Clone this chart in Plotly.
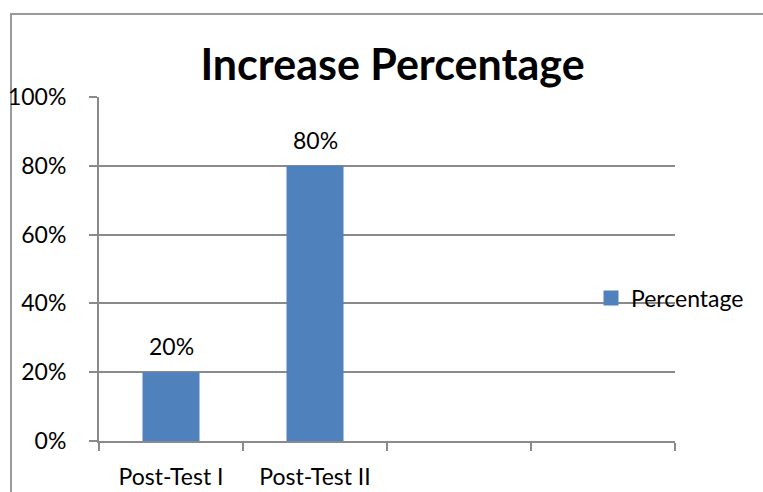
import plotly.graph_objects as go

categories = ["Post-Test I", "Post-Test II", " ", "  "]
values = [0.20, 0.80, None, None]
series_name = "Percentage"
title_text = "Increase Percentage"
y_ticks = [0, 0.2, 0.4, 0.6, 0.8, 1.0]

W, H = 763, 492
ML, MR, MT, MB = 99, 88, 97, 51
PW = W - ML - MR
PH = H - MT - MB

FONT = "Lato"
GRID = "#8a8a8a"
BAR = "#4F81BD"

fig = go.Figure()
fig.add_trace(go.Bar(
    x=categories, y=values, name=series_name,
    marker=dict(color=BAR, line=dict(width=0)),
    width=0.396, showlegend=False, legendgroup="s",
))
# legend entry for the series (larger square swatch, as in the original)
fig.add_trace(go.Scatter(
    x=[None], y=[None], name=series_name, mode="markers",
    marker=dict(symbol="square", size=15, color=BAR),
    showlegend=True, legendgroup="s",
))

for c, v in zip(categories, values):
    if v is None:
        continue
    fig.add_annotation(
        x=c, y=v, xref="x", yref="y", text=f"{v:.0%}",
        showarrow=False, yshift=26, yanchor="middle",
        font=dict(family=FONT, size=23, color="#000000"),
    )

# outer chart frame (extends beyond the right and bottom edges)
fig.add_shape(
    type="rect", xref="paper", yref="paper",
    x0=(11 - ML) / PW, x1=(W + 20 - ML) / PW,
    y0=(H - MB - (H + 20)) / PH, y1=(H - MB - 14) / PH,
    line=dict(color="#9a9a9a", width=2), fillcolor="rgba(0,0,0,0)", layer="below",
)

fig.update_layout(
    width=W, height=H,
    margin=dict(l=ML, r=MR, t=MT, b=MB, pad=0, autoexpand=False),
    paper_bgcolor="white", plot_bgcolor="white",
    font=dict(family=FONT, size=23, color="#000000"),
    title=dict(
        text=f"<b>{title_text}</b>", x=392.5 / W, xanchor="center",
        y=1 - 65 / H, yanchor="middle", yref="container", automargin=False,
        font=dict(family=FONT, size=43, color="#000000"),
    ),
    showlegend=True,
    legend=dict(
        x=(591 - ML) / PW, y=(H - MB - 298) / PH, xanchor="left", yanchor="middle",
        xref="paper", yref="paper",
        font=dict(family=FONT, size=23, color="#000000"),
        bgcolor="rgba(0,0,0,0)", borderwidth=0,
        itemwidth=30, tracegroupgap=0, itemsizing="trace",
    ),
    bargap=0.604,
)

fig.update_xaxes(
    type="category", categoryorder="array", categoryarray=categories,
    range=[-0.5, len(categories) - 0.5], automargin=False,
    tickson="boundaries", ticks="outside", ticklen=8, tickwidth=2, tickcolor=GRID,
    showline=True, linecolor=GRID, linewidth=2,
    showgrid=False, zeroline=False,
    tickfont=dict(family=FONT, size=23, color="#000000"),
    ticklabelstandoff=14,
)
fig.update_yaxes(
    range=[0, 1], tickvals=y_ticks, tickformat=".0%", automargin=False,
    ticks="outside", ticklen=8, tickwidth=2, tickcolor=GRID,
    showline=True, linecolor=GRID, linewidth=2,
    showgrid=True, gridcolor=GRID, gridwidth=2,
    zeroline=False,
    tickfont=dict(family=FONT, size=23, color="#000000"),
    ticklabelstandoff=18,
)

fig.write_html("out.html")
